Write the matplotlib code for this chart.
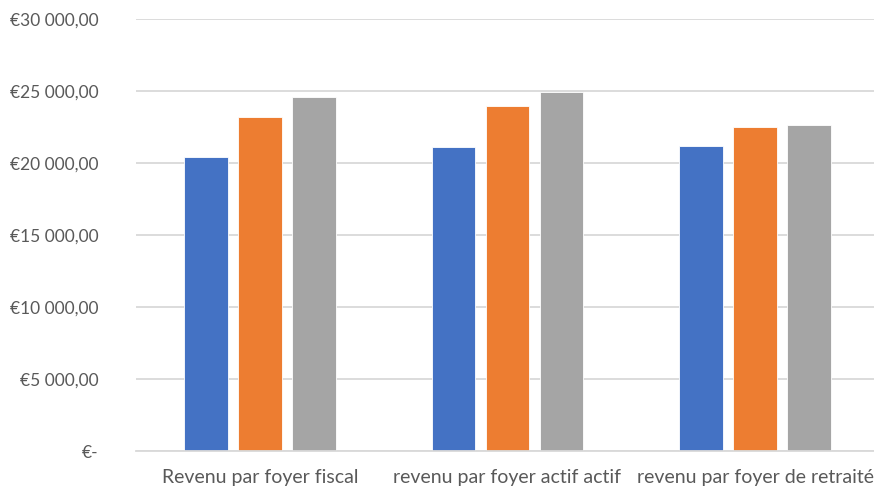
import matplotlib
matplotlib.use('Agg')
import matplotlib.pyplot as plt
import numpy as np
from matplotlib.ticker import FuncFormatter

categories = ['Revenu par foyer fiscal', 'revenu par foyer actif actif',
              'revenu par foyer de retraité']
serie_1 = [20420, 21090, 21180]
serie_2 = [23170, 23930, 22500]
serie_3 = [24580, 24930, 22620]
colors = ['#4472C4', '#ED7D31', '#A5A5A5']
y_ticks = [0, 5000, 10000, 15000, 20000, 25000, 30000]

plt.rcParams['font.family'] = ['Lato', 'DejaVu Sans']


def euro(v, pos):
    if v == 0:
        return '€-'
    return '€' + f'{int(v):,}'.replace(',', ' ') + ',00'


fig = plt.figure(figsize=(8.74, 4.97), dpi=100)
ax = fig.add_axes([136 / 874, 46 / 497, (874 - 136) / 874, 432 / 497])

x = np.arange(len(categories))
step = 0.218
width = 0.176
for i, serie in enumerate([serie_1, serie_2, serie_3]):
    ax.bar(x + (i - 1) * step, serie, width, color=colors[i],
           edgecolor='white', linewidth=0.6, zorder=3)

ax.set_xlim(-0.5, 2.48)
ax.set_ylim(0, 30000)
ax.set_yticks(y_ticks)
ax.yaxis.set_major_formatter(FuncFormatter(euro))
ax.set_xticks(x)
ax.set_xticklabels(categories)

ax.grid(axis='y', color='#D9D9D9', linewidth=1.3, zorder=0)
for side in ['top', 'right', 'left']:
    ax.spines[side].set_visible(False)
ax.spines['bottom'].set_color('#D9D9D9')
ax.spines['bottom'].set_linewidth(1.3)
ax.spines['bottom'].set_zorder(4)
ax.tick_params(axis='both', length=0, colors='#595959')
ax.tick_params(axis='y', pad=27, labelsize=12.5)
ax.tick_params(axis='x', pad=13, labelsize=14)

fig.savefig('out.png', dpi=100)
